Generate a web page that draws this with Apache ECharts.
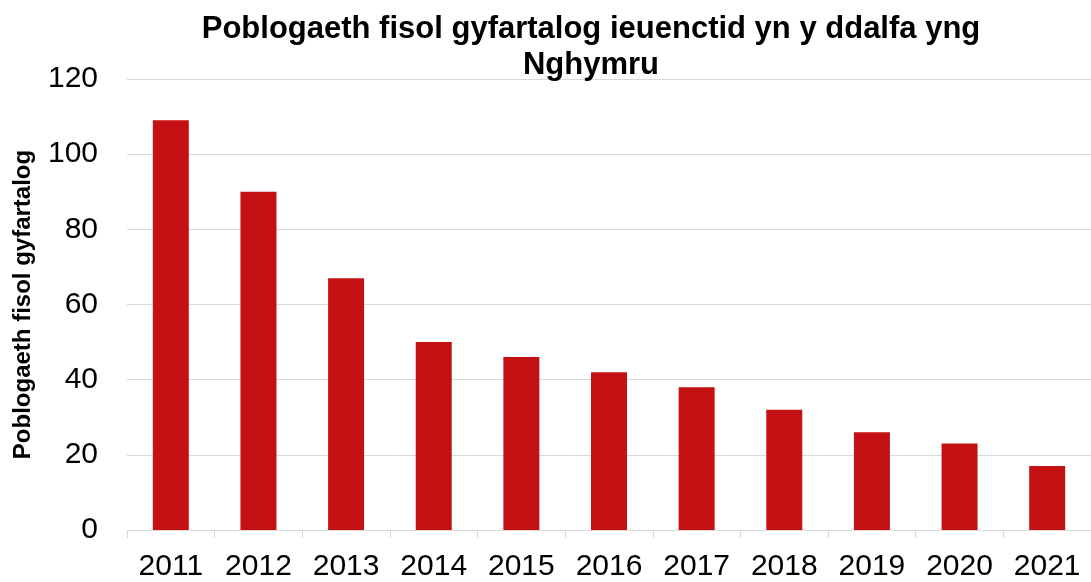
<!DOCTYPE html>
<html>
<head>
<meta charset="utf-8">
<script src="https://cdn.jsdelivr.net/npm/echarts@6/dist/echarts.min.js"></script>
<style>
  html, body { margin: 0; padding: 0; background: #fff; }
  #chart { width: 1091px; height: 582px; }
</style>
</head>
<body>
<div id="chart"></div>
<script>
"use strict";

// 数据
const years  = ["2011","2012","2013","2014","2015","2016","2017","2018","2019","2020","2021"];
const values = [109, 90, 67, 50, 46, 42, 38, 32, 26, 23, 17];

const chart = echarts.init(document.getElementById("chart"));
chart.setOption({
  backgroundColor: "#fff",
  animation: false,
  title: {
    text: "Poblogaeth fisol gyfartalog ieuenctid yn y ddalfa yng\nNghymru",
    left: 586, top: 6, textAlign: "center",
    textStyle: { fontFamily: "Liberation Sans", fontWeight: "bold", fontSize: 31, lineHeight: 36, color: "#000" }
  },
  grid: { left: 127, top: 79, width: 971, height: 451, containLabel: false },
  xAxis: {
    type: "category", data: years,
    axisLine: { lineStyle: { color: "#d9d9d9", width: 1 } },
    axisTick: { show: true, length: 8, lineStyle: { color: "#d9d9d9" } },
    axisLabel: { fontFamily: "Liberation Sans", fontSize: 30, color: "#000", margin: 22 }
  },
  yAxis: {
    type: "value", min: 0, max: 120, interval: 20,
    name: "Poblogaeth fisol gyfartalog",
    nameLocation: "middle", nameGap: 92, nameRotate: 90,
    nameTextStyle: { fontFamily: "Liberation Sans", fontWeight: "bold", fontSize: 24, color: "#000" },
    axisLine: { show: false },
    axisTick: { show: false },
    axisLabel: { fontFamily: "Liberation Sans", fontSize: 30, color: "#000", margin: 29 },
    splitLine: { lineStyle: { color: "#d9d9d9", width: 1 } }
  },
  series: [{
    type: "bar", data: values, barWidth: 36,
    itemStyle: { color: "#C41214" }
  }]
});
</script>
</body>
</html>
